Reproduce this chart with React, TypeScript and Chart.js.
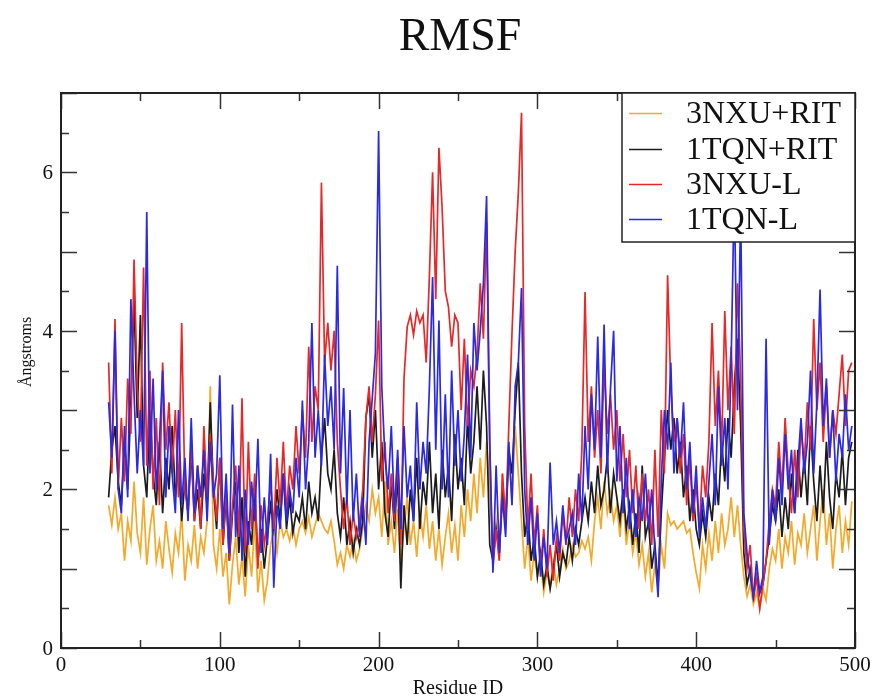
import React, { useEffect, useRef } from "react";
import { Chart, registerables } from "chart.js";

Chart.register(...registerables);

// Residue IDs start at 30, sampled every 2 residues
const residueStart = 30;
const residueStep = 2;

const nxuRit = [
  1.8, 1.55, 1.9, 1.5, 1.7, 1.1, 1.6, 1.35, 2.1, 1.45,
  1.2, 1.9, 1.05, 1.5, 1.8, 1.1, 1.35, 1.0, 1.6, 1.25,
  0.95, 1.45, 1.2, 1.7, 0.85, 1.3, 1.1, 1.55, 1.0, 1.4,
  1.2, 1.6, 3.3, 1.3, 1.0, 1.5, 0.9, 1.2, 0.55, 1.05,
  1.4, 0.8, 1.15, 0.65, 1.3, 0.9, 1.6, 0.7, 1.1, 0.6,
  0.85, 1.3, 1.5, 1.2, 1.6, 1.4, 1.5, 1.35, 1.55, 1.3,
  1.5, 1.6, 1.45, 1.65, 1.4, 1.55, 1.7, 1.6, 1.5, 1.45,
  1.6, 1.35, 1.05, 1.2, 1.0, 1.3, 1.15, 1.35, 1.1, 1.25,
  1.5, 1.8, 1.6, 2.0, 1.7, 1.9, 1.4, 2.1, 1.3, 1.6,
  1.2, 1.75, 1.1, 1.5, 1.9, 1.3, 1.6, 1.15, 1.7, 1.4,
  1.8, 1.25, 1.6, 1.1, 1.5, 1.05, 1.4, 1.7, 1.2, 1.55,
  1.1, 1.8, 1.4, 2.0, 1.6, 2.2, 1.7, 2.4, 1.9, 2.6,
  2.0, 1.3, 1.6, 1.1, 2.2, 1.5, 2.5, 1.8, 2.8, 2.2,
  1.6, 1.0, 1.4, 0.85, 1.2, 0.9, 1.1, 0.7, 0.95, 0.75,
  1.1, 0.8, 1.0, 1.25, 1.0, 1.1, 1.3, 1.15, 1.2, 1.35,
  1.25, 1.4, 1.1, 1.6, 1.9, 1.5, 2.1, 1.7, 1.95, 1.6,
  1.8, 1.4, 1.9, 1.3, 1.6, 1.2, 1.45, 1.05, 1.3, 0.9,
  1.2, 0.7, 1.05, 0.75, 1.3, 1.0, 1.7, 1.55, 1.6, 1.5,
  1.55, 1.6, 1.45, 1.5, 1.2, 0.95, 0.75, 1.3, 1.0, 1.45,
  1.1, 1.6, 1.2, 1.7, 1.3, 1.5, 1.9, 1.4, 1.8, 1.3,
  0.9, 0.65, 0.8, 0.55, 0.7, 0.5, 0.75, 0.6, 1.0, 1.25,
  1.1, 1.5, 1.0, 1.4, 1.2, 1.6, 1.05, 1.45, 1.3, 1.7,
  1.2, 1.5, 1.8, 1.1, 1.6, 2.0, 1.3, 1.7, 1.0, 1.5,
  1.8, 1.2, 1.6, 1.3, 1.85,
];

const tqnRit = [
  1.9, 2.5, 2.8, 2.1, 1.8, 2.6, 2.0, 3.1, 4.4, 2.9,
  4.2, 2.3, 1.9, 3.0, 2.2, 1.8, 2.6, 1.7, 2.4, 2.0,
  2.8, 1.9, 2.3, 1.6, 2.1, 1.7, 2.5, 1.6, 2.0, 1.5,
  2.2, 1.8, 3.1, 2.0, 1.5, 2.4, 1.3, 1.9, 1.1, 1.7,
  2.1, 1.2, 1.9, 0.9, 1.6, 1.3, 2.0, 1.1, 1.5, 1.0,
  1.4, 1.8, 1.5, 2.0, 1.6, 2.2, 1.5, 1.9, 1.45, 1.7,
  1.6, 1.9, 1.5, 2.1, 1.7, 1.9, 1.6, 2.4, 2.9, 2.2,
  2.0, 2.5, 1.7, 1.4, 1.9, 1.3, 1.6, 1.2, 1.5, 1.3,
  1.6, 2.9, 3.2, 2.4, 3.0, 2.0, 2.6, 1.7, 1.4, 2.1,
  1.5, 2.2, 0.75, 1.8, 1.3, 2.0, 1.6, 2.4, 1.5, 2.1,
  1.8, 2.6, 1.7, 2.2, 1.5, 2.5, 1.9, 2.3, 1.6, 2.7,
  2.0, 2.4, 1.8, 2.9, 2.2, 2.6, 3.3, 2.5, 3.5, 2.8,
  1.3, 1.1, 1.5, 1.2, 2.0, 1.6, 2.5, 2.2, 3.0, 3.6,
  2.2, 1.4, 1.7, 1.1, 1.4, 0.9, 1.2, 0.8, 1.05, 0.75,
  1.0, 1.3, 0.9, 1.2, 1.05, 1.4, 1.1, 1.5, 1.3, 1.6,
  1.9, 1.6, 2.1, 1.7, 2.3, 1.8, 2.0, 2.4, 1.7, 2.2,
  1.9, 1.6, 2.0, 1.5, 1.8, 1.3, 1.7, 1.2, 2.3, 1.4,
  1.6, 1.0, 1.3, 0.8, 1.7, 2.4, 3.0, 2.5, 2.9, 2.2,
  2.6, 1.9, 2.3, 1.6, 2.0, 1.5, 1.3, 1.7, 1.4, 1.9,
  1.6, 2.2, 1.8, 2.6, 2.1, 2.9, 2.4, 3.3, 3.9, 2.8,
  1.2, 0.8, 1.0, 0.65, 0.9, 0.7, 0.8, 1.1, 1.4, 1.8,
  1.6, 2.0, 1.4, 1.9, 1.5, 2.2, 1.7, 2.5, 1.9, 2.4,
  1.8, 2.8, 2.1, 1.6, 2.3, 1.7, 2.6, 1.9, 1.5, 2.2,
  1.9, 2.5, 1.8, 2.4, 2.6,
];

const nxuL = [
  3.6, 2.2, 4.15, 2.0, 2.9, 2.1, 3.4, 2.7, 4.9, 3.3,
  2.6, 4.8, 2.3, 3.5, 2.0, 2.9, 1.8, 3.6, 2.5, 3.1,
  2.2, 3.0, 1.9, 4.1, 2.0, 1.7, 2.6, 1.6, 2.3, 1.5,
  2.8, 1.9, 2.7, 2.1, 1.6, 2.4, 1.3, 2.0, 1.1, 1.8,
  2.3, 1.4, 3.15, 1.2, 2.6, 1.5, 2.2, 1.0, 1.8, 1.3,
  1.6, 2.1, 1.5, 2.4, 1.8, 2.6, 1.7, 2.3, 2.0, 2.8,
  2.2, 3.0, 2.4, 3.8, 2.6, 3.3, 3.0, 5.87, 3.6, 4.1,
  3.5, 4.0, 2.6, 2.0, 1.5, 1.9, 1.3, 1.7, 1.4, 1.6,
  2.0, 2.9, 3.3, 2.6, 3.2, 4.13, 2.1, 2.6, 1.7, 2.2,
  1.6, 2.4, 1.3, 3.4, 4.05, 4.2, 3.95, 4.25, 4.1, 4.2,
  3.6, 4.7, 6.0, 4.4, 6.31, 5.55, 4.5, 4.3, 3.8, 4.2,
  4.1, 3.0, 3.9, 2.8, 3.5, 3.3, 3.7, 4.6, 3.9, 5.37,
  2.5, 1.0, 1.5, 1.1, 2.2, 1.6, 2.8, 3.97, 5.0, 5.74,
  6.75, 2.8, 1.5, 2.2, 1.3, 1.8, 1.0, 1.5, 0.9, 1.3,
  0.85, 1.4, 1.1, 1.7, 1.3, 1.9, 1.4, 2.0, 1.6, 2.5,
  4.49, 2.6, 3.3, 2.4, 3.0, 2.2, 3.6, 2.7, 3.2, 2.5,
  3.0, 2.1, 2.7, 1.9, 2.5, 1.7, 2.3, 1.5, 2.2, 1.6,
  2.0, 1.3, 2.5, 1.4, 3.0, 2.2, 4.7, 3.3, 2.6, 2.9,
  2.2, 2.7, 1.8, 2.4, 1.6, 2.1, 1.5, 2.3, 1.9, 2.6,
  4.1, 2.8, 3.5, 2.5, 4.25, 3.0, 3.8, 2.7, 4.6, 3.4,
  1.5, 1.0, 1.3, 0.6, 0.9, 0.5, 0.8, 1.1, 1.6, 2.0,
  1.8, 2.6, 2.0, 2.9, 2.2, 1.7, 2.5, 1.9, 2.8, 2.3,
  3.1, 2.5, 4.15, 3.0, 3.6, 2.6, 3.3, 2.4, 3.0, 2.7,
  3.2, 3.7, 2.8, 3.5, 3.6,
];

const tqnL = [
  3.1, 2.4, 4.0, 2.0, 1.7, 2.8, 1.9, 4.4, 3.2, 2.2,
  3.0, 2.3, 5.5, 2.2, 3.4, 2.0, 2.6, 3.5, 1.9, 2.8,
  2.2, 1.7, 3.0, 1.8, 2.4, 1.6, 2.9, 1.7, 2.3, 1.9,
  2.5, 1.6, 2.6, 1.9, 2.2, 3.44, 1.5, 2.2, 1.2, 3.07,
  1.4, 2.3, 1.1, 2.0, 1.3, 2.1, 1.6, 2.64, 1.2, 1.9,
  1.3, 2.45, 0.76, 1.8, 1.5, 2.2, 1.6, 2.0, 1.7, 2.4,
  1.9, 3.12, 2.0, 2.6, 4.1, 2.4, 3.0, 2.3, 3.7, 2.8,
  3.3, 2.5, 4.82, 2.2, 3.28, 1.8, 3.0, 1.6, 2.2, 1.4,
  1.9, 1.3, 2.6, 3.15, 3.72, 6.52, 3.3, 2.4, 2.0, 2.8,
  1.7, 2.5, 1.5, 2.8, 1.9, 2.3, 1.6, 3.1, 2.0, 2.6,
  2.2, 3.3, 4.68, 2.5, 4.13, 2.0, 3.2, 1.9, 3.5, 2.3,
  3.0, 2.1, 2.7, 3.7, 2.4, 4.1, 3.5, 4.0, 4.6, 5.7,
  2.6, 0.95, 2.3, 1.2, 1.9, 1.4, 2.6, 1.8, 3.3, 3.6,
  4.54, 2.0, 1.3, 1.9, 1.1, 1.7, 0.9, 1.4, 1.0, 2.34,
  1.3, 1.6, 1.2, 1.8, 1.35, 1.5, 1.7, 1.3, 2.2, 1.6,
  2.8, 2.0, 3.2, 2.5, 3.93, 2.4, 4.08, 2.2, 3.26, 4.0,
  2.1, 2.8, 1.7, 2.4, 1.5, 2.0, 1.4, 1.9, 1.6, 2.2,
  1.5, 2.0, 1.2, 0.64, 2.1, 3.0, 2.5, 3.6, 2.2, 2.9,
  2.4, 3.1, 2.0, 2.6, 1.7, 2.3, 1.4, 1.9, 1.5, 2.1,
  2.7, 1.8, 3.3, 2.3, 2.9, 2.0, 3.6, 5.8, 3.0, 5.6,
  1.7, 1.2, 0.9, 0.65, 1.1, 0.7, 0.9, 3.9, 1.3, 2.0,
  1.6, 2.4, 1.8, 2.7, 2.0, 2.5, 1.7, 2.3, 2.9, 2.2,
  2.6, 3.5, 2.2, 3.1, 4.52, 2.8, 3.4, 2.4, 3.0, 2.1,
  2.7, 2.4, 3.2, 2.5, 2.8,
];

const seriesLabels = ["3NXU+RIT", "1TQN+RIT", "3NXU-L", "1TQN-L"];
const seriesColors = ["#f4a92a", "#1c1c1c", "#e82828", "#2a2ae6"];
const xTickLabels = [0, 100, 200, 300, 400, 500];
const yTickLabels = [0, 2, 4, 6];

const SERIF = '"Liberation Serif", "DejaVu Serif", serif';

const decorPlugin = {
  id: "decor",
  afterDraw(chart: any) {
    const { ctx, chartArea: a } = chart;
    const xs = chart.scales.x;
    const ys = chart.scales.y;
    ctx.save();

    // inward ticks on all four sides
    ctx.strokeStyle = "#333";
    ctx.lineWidth = 1.5;
    ctx.beginPath();
    for (let v = 0; v <= 500; v += 50) {
      const px = Math.round(xs.getPixelForValue(v)) + 0.5;
      const len = v % 100 === 0 ? 16 : 8;
      ctx.moveTo(px, a.bottom);
      ctx.lineTo(px, a.bottom - len);
      ctx.moveTo(px, a.top);
      ctx.lineTo(px, a.top + len);
    }
    for (let v = 0; v <= 7; v += 0.5) {
      const py = Math.round(ys.getPixelForValue(v)) + 0.5;
      const len = v % 1 === 0 ? 16 : 8;
      ctx.moveTo(a.left, py);
      ctx.lineTo(a.left + len, py);
      ctx.moveTo(a.right, py);
      ctx.lineTo(a.right - len, py);
    }
    ctx.stroke();

    // frame
    ctx.strokeStyle = "#222";
    ctx.lineWidth = 2;
    ctx.strokeRect(a.left, a.top, a.right - a.left, a.bottom - a.top);

    // tick labels
    ctx.fillStyle = "#111";
    ctx.font = `21px ${SERIF}`;
    ctx.textAlign = "center";
    ctx.textBaseline = "alphabetic";
    xTickLabels.forEach((v) => {
      ctx.fillText(String(v), xs.getPixelForValue(v), 671);
    });
    ctx.textAlign = "right";
    yTickLabels.forEach((v) => {
      ctx.fillText(String(v), a.left - 8, ys.getPixelForValue(v) + 7);
    });

    // axis titles
    ctx.textAlign = "center";
    ctx.font = `20px ${SERIF}`;
    ctx.fillText("Residue ID", (a.left + a.right) / 2, 694);
    ctx.save();
    ctx.translate(31, 352);
    ctx.rotate(-Math.PI / 2);
    ctx.font = `16px ${SERIF}`;
    ctx.fillText("Ångstroms", 0, 0);
    ctx.restore();

    // title
    ctx.font = `46px ${SERIF}`;
    ctx.fillText("RMSF", 460, 50);

    // legend box
    const lx = 622;
    const ly = a.top;
    const lw = a.right - lx;
    const lh = 149;
    ctx.fillStyle = "#fff";
    ctx.fillRect(lx, ly, lw, lh);
    ctx.strokeStyle = "#222";
    ctx.lineWidth = 1.5;
    ctx.strokeRect(lx, ly, lw, lh);
    const rows = [113, 149, 184, 219];
    ctx.font = `32px ${SERIF}`;
    ctx.textAlign = "left";
    seriesLabels.forEach((lab, i) => {
      ctx.strokeStyle = seriesColors[i];
      ctx.lineWidth = 1.5;
      ctx.beginPath();
      ctx.moveTo(629, rows[i] + 0.5);
      ctx.lineTo(662, rows[i] + 0.5);
      ctx.stroke();
      ctx.fillStyle = "#111";
      ctx.fillText(lab, 686, rows[i] + 10);
    });

    ctx.restore();
  },
};

export default function App() {
  const canvasRef = useRef<HTMLCanvasElement | null>(null);

  useEffect(() => {
    const canvas = canvasRef.current;
    if (!canvas) return;
    const residues = nxuRit.map((_, i) => residueStart + i * residueStep);
    const allSeries = [nxuRit, tqnRit, nxuL, tqnL];
    const drawOrder = [4, 3, 2, 1];
    const chart = new Chart(canvas, {
      type: "line",
      data: {
        datasets: allSeries.map((vals, k) => ({
          label: seriesLabels[k],
          data: vals.map((v, i) => ({ x: residues[i], y: v })),
          borderColor: seriesColors[k],
          backgroundColor: seriesColors[k],
          borderWidth: 1.7,
          pointRadius: 0,
          tension: 0,
          fill: false,
          order: drawOrder[k],
        })),
      },
      options: {
        responsive: false,
        animation: false,
        events: [],
        layout: { padding: { left: 61, right: 18, top: 93, bottom: 50 } },
        plugins: {
          legend: { display: false },
          title: { display: false },
          tooltip: { enabled: false },
        },
        scales: {
          x: { type: "linear", min: 0, max: 500, display: false },
          y: { type: "linear", min: 0, max: 7, display: false },
        },
      },
      plugins: [decorPlugin],
    });
    return () => chart.destroy();
  }, []);

  return (
    <div style={{ position: "fixed", left: 0, top: 0, width: 873, height: 698, background: "#fff" }}>
      <canvas ref={canvasRef} width={873} height={698} style={{ display: "block" }} />
    </div>
  );
}
